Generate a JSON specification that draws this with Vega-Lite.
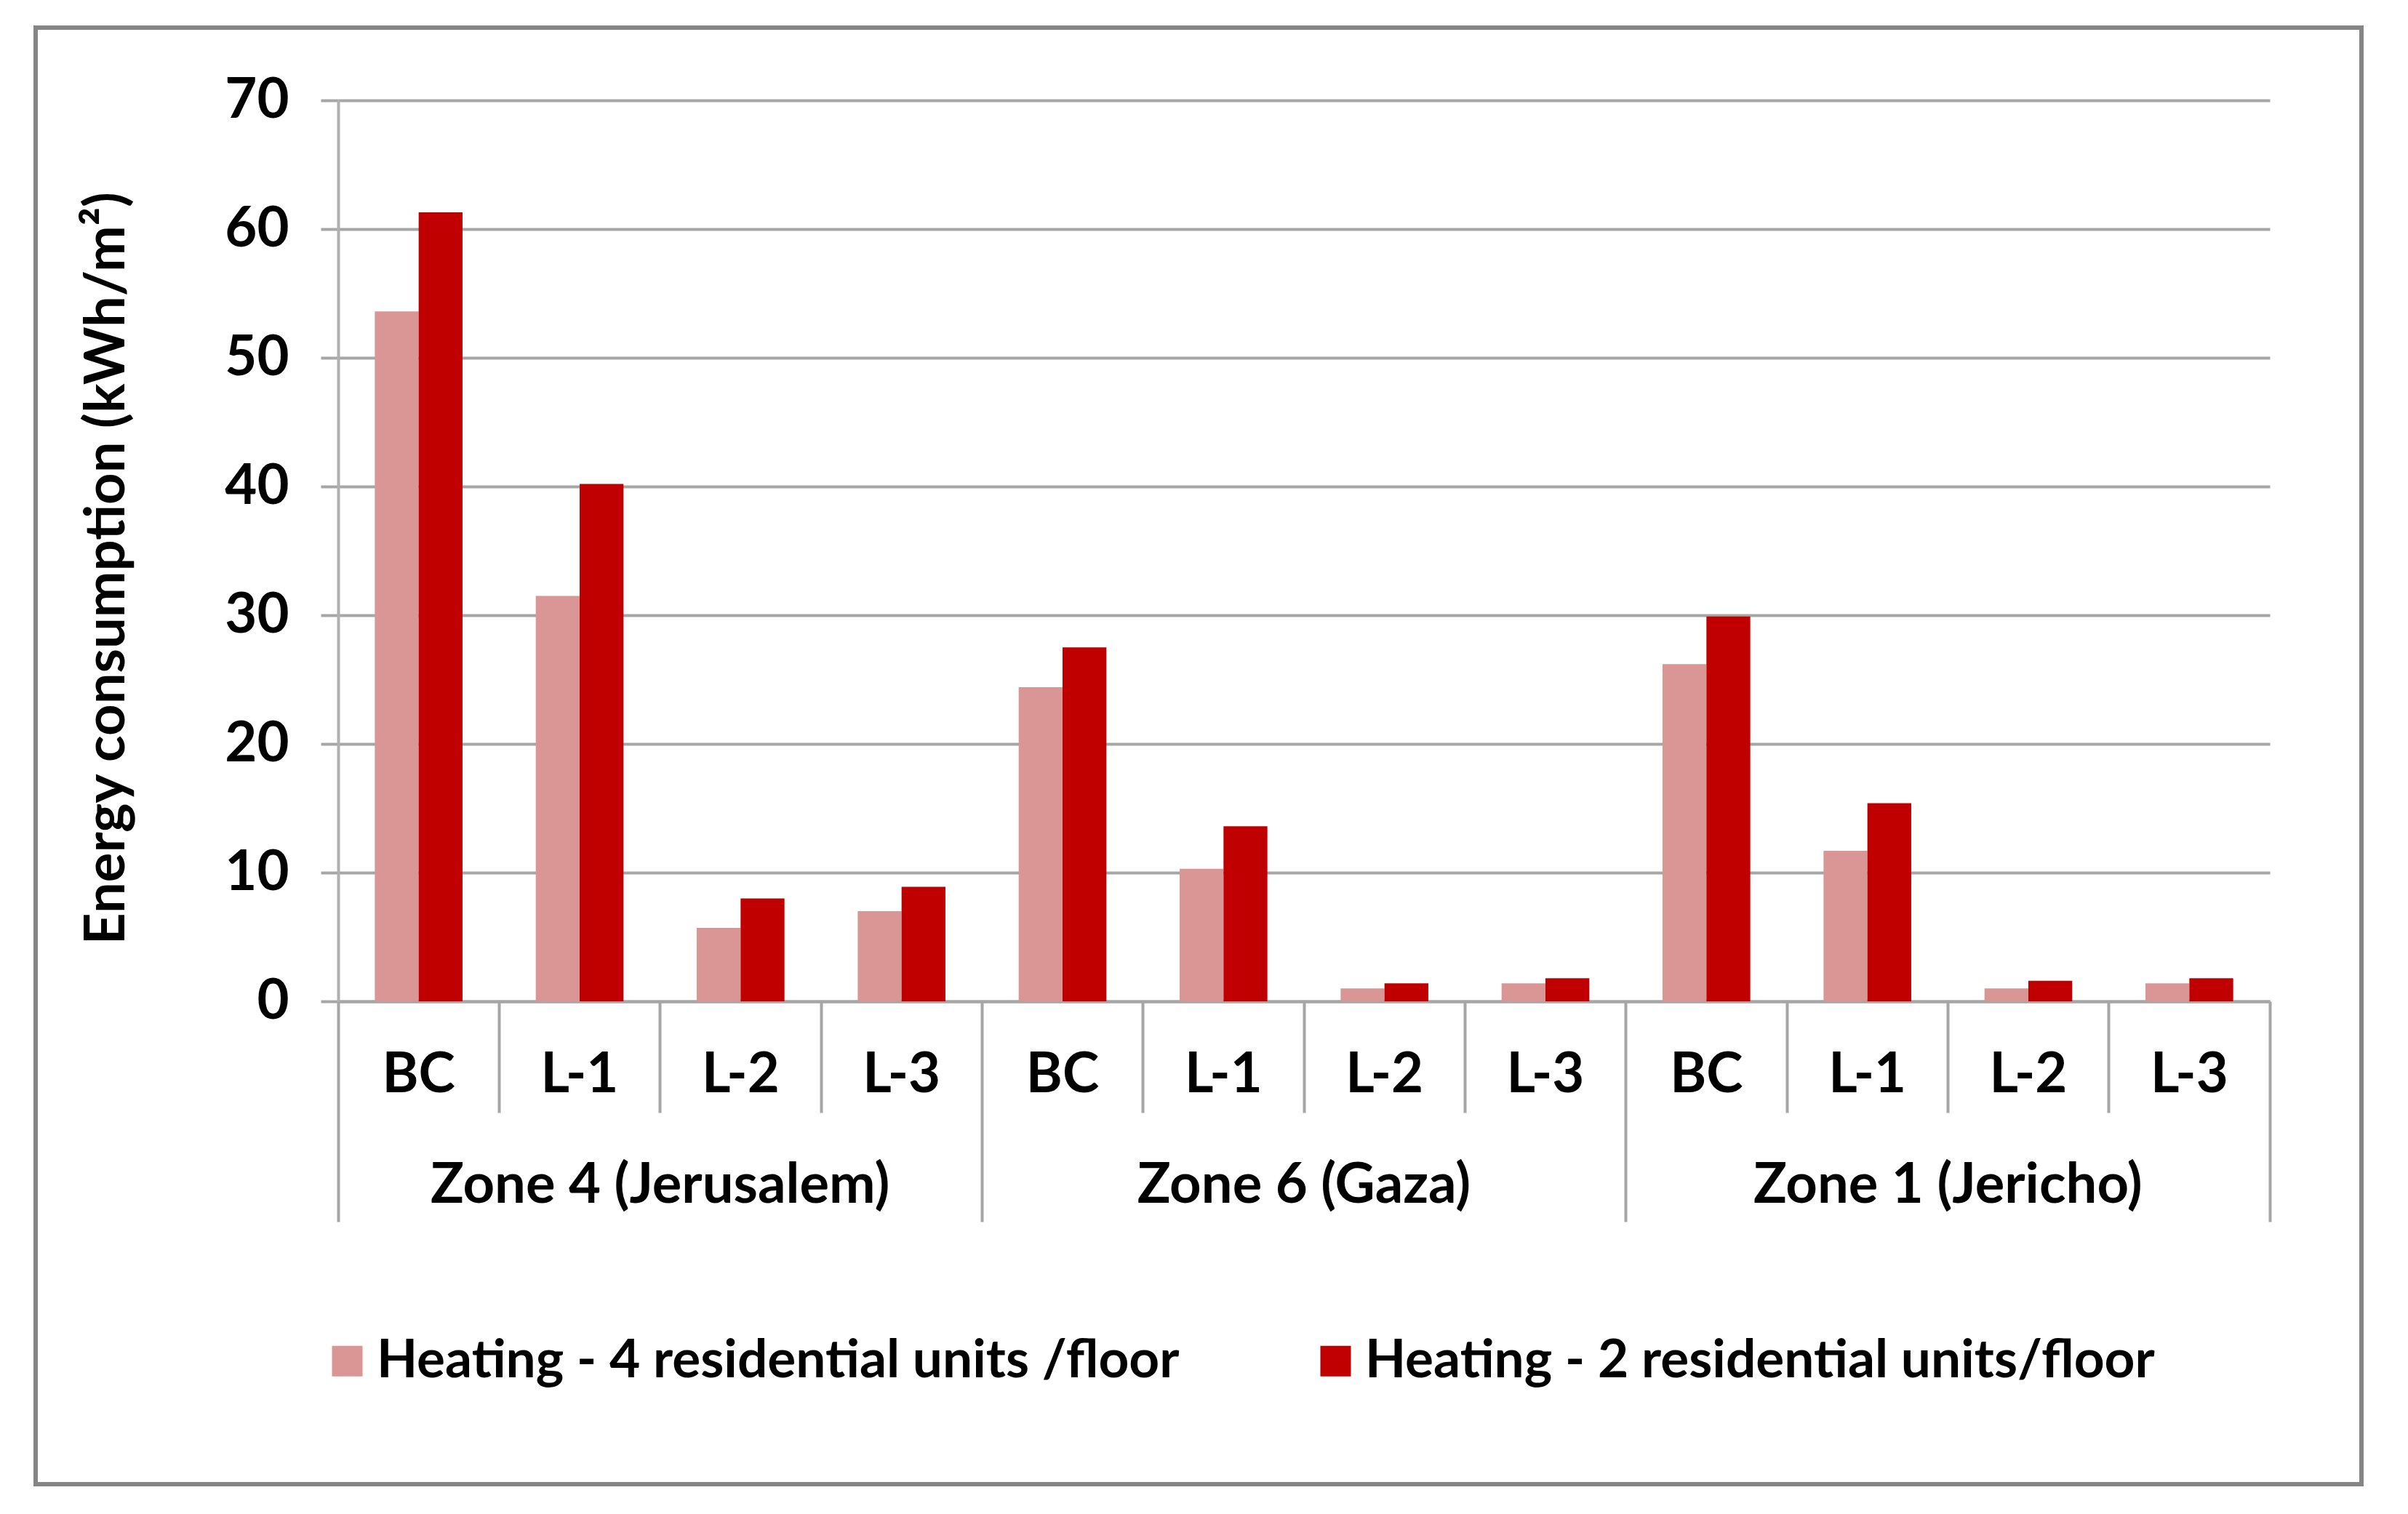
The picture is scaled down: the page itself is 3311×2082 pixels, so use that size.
{
  "$schema": "https://vega.github.io/schema/vega-lite/v6.json",
  "autosize": "none",
  "width": 3198,
  "height": 2003,
  "padding": {"left": 49, "top": 38, "right": 64, "bottom": 41},
  "background": "white",
  "config": {
    "view": {"stroke": "#858585", "strokeWidth": 6},
    "font": "Lato"
  },
  "data": {
    "values": [
      {"cat": "Zone 4 (Jerusalem)|BC", "series": "Heating - 4 residential units /floor", "value": 53.6},
      {"cat": "Zone 4 (Jerusalem)|BC", "series": "Heating - 2 residential units/floor", "value": 61.3},
      {"cat": "Zone 4 (Jerusalem)|L-1", "series": "Heating - 4 residential units /floor", "value": 31.5},
      {"cat": "Zone 4 (Jerusalem)|L-1", "series": "Heating - 2 residential units/floor", "value": 40.2},
      {"cat": "Zone 4 (Jerusalem)|L-2", "series": "Heating - 4 residential units /floor", "value": 5.7},
      {"cat": "Zone 4 (Jerusalem)|L-2", "series": "Heating - 2 residential units/floor", "value": 8.0},
      {"cat": "Zone 4 (Jerusalem)|L-3", "series": "Heating - 4 residential units /floor", "value": 7.0},
      {"cat": "Zone 4 (Jerusalem)|L-3", "series": "Heating - 2 residential units/floor", "value": 8.9},
      {"cat": "Zone 6 (Gaza)|BC", "series": "Heating - 4 residential units /floor", "value": 24.4},
      {"cat": "Zone 6 (Gaza)|BC", "series": "Heating - 2 residential units/floor", "value": 27.5},
      {"cat": "Zone 6 (Gaza)|L-1", "series": "Heating - 4 residential units /floor", "value": 10.3},
      {"cat": "Zone 6 (Gaza)|L-1", "series": "Heating - 2 residential units/floor", "value": 13.6},
      {"cat": "Zone 6 (Gaza)|L-2", "series": "Heating - 4 residential units /floor", "value": 1.0},
      {"cat": "Zone 6 (Gaza)|L-2", "series": "Heating - 2 residential units/floor", "value": 1.4},
      {"cat": "Zone 6 (Gaza)|L-3", "series": "Heating - 4 residential units /floor", "value": 1.4},
      {"cat": "Zone 6 (Gaza)|L-3", "series": "Heating - 2 residential units/floor", "value": 1.8},
      {"cat": "Zone 1 (Jericho)|BC", "series": "Heating - 4 residential units /floor", "value": 26.2},
      {"cat": "Zone 1 (Jericho)|BC", "series": "Heating - 2 residential units/floor", "value": 29.9},
      {"cat": "Zone 1 (Jericho)|L-1", "series": "Heating - 4 residential units /floor", "value": 11.7},
      {"cat": "Zone 1 (Jericho)|L-1", "series": "Heating - 2 residential units/floor", "value": 15.4},
      {"cat": "Zone 1 (Jericho)|L-2", "series": "Heating - 4 residential units /floor", "value": 1.0},
      {"cat": "Zone 1 (Jericho)|L-2", "series": "Heating - 2 residential units/floor", "value": 1.6},
      {"cat": "Zone 1 (Jericho)|L-3", "series": "Heating - 4 residential units /floor", "value": 1.4},
      {"cat": "Zone 1 (Jericho)|L-3", "series": "Heating - 2 residential units/floor", "value": 1.8}
    ]
  },
  "resolve": {"axis": {"x": "independent"}},
  "layer": [
    {
      "mark": {"type": "bar"},
      "encoding": {
        "x": {
          "field": "cat", "type": "nominal", "sort": null,
          "scale": {"range": [416, 3072], "paddingInner": 0, "paddingOuter": 0},
          "axis": {
            "orient": "bottom", "offset": -664, "title": null,
            "ticks": false, "domain": true, "domainColor": "#a6a6a6", "domainWidth": 4,
            "labelExpr": "split(datum.label, '|')[1]",
            "labelAngle": 0, "labelBaseline": "middle", "labelPadding": 101, "labelLimit": 0,
            "labelFont": "Lato", "labelFontWeight": "bold", "labelFontSize": 76, "labelColor": "#000000",
            "labelOverlap": false, "grid": false
          }
        },
        "xOffset": {
          "field": "series", "type": "nominal", "sort": null,
          "scale": {"paddingInner": 0, "paddingOuter": 0.835}
        },
        "y": {
          "field": "value", "type": "quantitative",
          "scale": {"domain": [0, 70], "nice": false, "range": [1339, 100]},
          "axis": {
            "orient": "left", "offset": -416,
            "values": [0, 10, 20, 30, 40, 50, 60, 70],
            "title": "Energy consumption (kWh/m²)",
            "titleFont": "Lato", "titleFontWeight": "bold", "titleFontSize": 76, "titleColor": "#000000",
            "titleAngle": 270, "titleAlign": "center", "titleBaseline": "bottom",
            "titleX": -279, "titleY": 743,
            "grid": true, "gridColor": "#a6a6a6", "gridWidth": 4,
            "domain": true, "domainColor": "#b0b0b0", "domainWidth": 4,
            "ticks": true, "tickSize": 24, "tickColor": "#a6a6a6", "tickWidth": 4,
            "labelPadding": 44, "labelBaseline": "middle",
            "labelFont": "Lato", "labelFontWeight": "bold", "labelFontSize": 76, "labelColor": "#000000"
          }
        },
        "color": {
          "field": "series", "type": "nominal", "sort": null,
          "scale": {
            "domain": ["Heating - 4 residential units /floor", "Heating - 2 residential units/floor"],
            "range": ["#D99694", "#C00000"]
          },
          "legend": {
            "title": null, "orient": "none", "direction": "horizontal",
            "legendX": 392, "legendY": 1797, "padding": 0,
            "symbolType": "square", "symbolSize": 1764, "symbolStrokeWidth": 0, "symbolOpacity": 1,
            "labelOffset": 4, "columnPadding": 178,
            "labelFont": "Lato", "labelFontWeight": "bold", "labelFontSize": 73, "labelColor": "#000000",
            "labelLimit": 0
          }
        }
      }
    },
    {
      "mark": {"type": "point", "opacity": 0},
      "encoding": {
        "x": {
          "field": "cat", "type": "nominal", "sort": null,
          "axis": {
            "orient": "bottom", "offset": -664, "title": null, "bandPosition": 0,
            "values": ["Zone 4 (Jerusalem)|L-1", "Zone 4 (Jerusalem)|L-2", "Zone 4 (Jerusalem)|L-3",
                       "Zone 6 (Gaza)|L-1", "Zone 6 (Gaza)|L-2", "Zone 6 (Gaza)|L-3",
                       "Zone 1 (Jericho)|L-1", "Zone 1 (Jericho)|L-2", "Zone 1 (Jericho)|L-3"],
            "domain": false, "labels": false, "grid": false,
            "ticks": true, "tickSize": 153, "tickColor": "#a6a6a6", "tickWidth": 4
          }
        }
      }
    },
    {
      "mark": {"type": "point", "opacity": 0},
      "encoding": {
        "x": {
          "field": "cat", "type": "nominal", "sort": null,
          "axis": {
            "orient": "bottom", "offset": -664, "title": null, "bandPosition": 0,
            "values": ["Zone 4 (Jerusalem)|BC", "Zone 6 (Gaza)|BC", "Zone 1 (Jericho)|BC"],
            "domain": false, "labels": false, "grid": false,
            "ticks": true, "tickSize": 303, "tickColor": "#a6a6a6", "tickWidth": 4
          }
        }
      }
    },
    {
      "mark": {"type": "point", "opacity": 0},
      "encoding": {
        "x": {
          "field": "cat", "type": "nominal", "sort": null,
          "axis": {
            "orient": "bottom", "offset": -664, "title": null, "bandPosition": 1,
            "values": ["Zone 1 (Jericho)|L-3"],
            "domain": false, "labels": false, "grid": false,
            "ticks": true, "tickSize": 303, "tickColor": "#a6a6a6", "tickWidth": 4
          }
        }
      }
    },
    {
      "mark": {"type": "point", "opacity": 0},
      "encoding": {
        "x": {
          "field": "cat", "type": "nominal", "sort": null,
          "axis": {
            "orient": "bottom", "offset": -664, "title": null, "bandPosition": 0,
            "values": ["Zone 4 (Jerusalem)|L-2", "Zone 6 (Gaza)|L-2", "Zone 1 (Jericho)|L-2"],
            "domain": false, "ticks": false, "grid": false,
            "labelExpr": "split(datum.label, '|')[0]",
            "labelAngle": 0, "labelBaseline": "middle", "labelPadding": 253, "labelLimit": 0,
            "labelOffset": -110.7,
            "labelFont": "Lato", "labelFontWeight": "bold", "labelFontSize": 76, "labelColor": "#000000",
            "labelOverlap": false
          }
        }
      }
    }
  ]
}
